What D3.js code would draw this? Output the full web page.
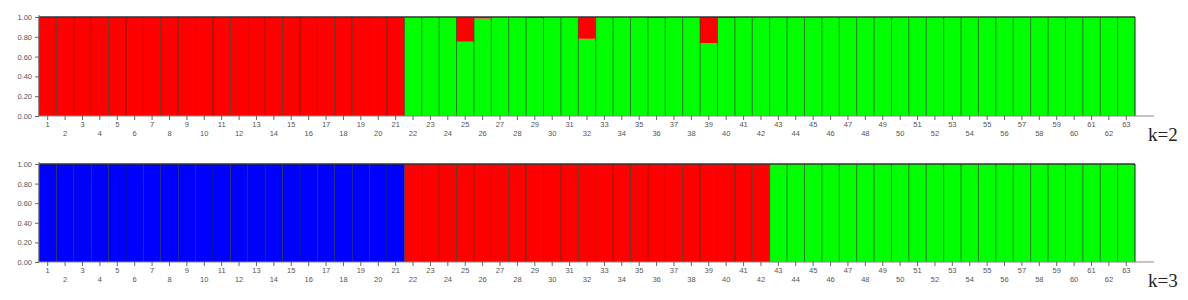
<!DOCTYPE html>
<html><head><meta charset="utf-8">
<script src="https://cdn.jsdelivr.net/npm/d3@7"></script>
<style>body{margin:0;background:#fff;}svg{display:block;}</style>
</head><body>
<svg id="c" width="1188" height="300"></svg>
<script>
const individuals = d3.range(1, 64);
// K=2 membership proportions of the red cluster (green = 1 - red), 21 per row
const k2Red = [
  1,1,1,1,1, 1,1,1,1,1, 1,1,1,1,1, 1,1,1,1,1, 1,
  0,0,0,0.25,0.015, 0,0,0.01,0,0, 0.22,0,0,0,0.01, 0,0,0.265,0.01,0, 0,
  0,0,0,0,0, 0,0,0,0,0, 0,0,0,0,0, 0,0,0,0,0, 0
];
const k2Green = k2Red.map(v => +(1 - v).toFixed(3));
// K=3 membership proportions (blue, red, green)
const k3Blue = individuals.map(i => i <= 21 ? 1 : 0);
const k3Red = individuals.map(i => (i > 21 && i <= 42) ? 1 : 0);
const k3Green = individuals.map(i => i > 42 ? 1 : 0);
const yTicks = [0, 0.2, 0.4, 0.6, 0.8, 1.0];
const panelLabels = ["k=2", "k=3"];

const svg = d3.select("#c");
const x = d3.scaleBand().domain(individuals).range([39, 1135]).padding(0);

function panel(top, bottom, series, colors, label) {
  const y = d3.scaleLinear().domain([0, 1]).range([bottom, top]);
  const g = svg.append("g");
  const rows = individuals.map((id, i) => {
    const r = {id};
    series.forEach((s, j) => r["s" + j] = s[i]);
    return r;
  });
  const keys = series.map((s, j) => "s" + j);
  const stack = d3.stack().keys(keys.slice().reverse())(rows);
  const colorMap = {};
  keys.forEach((k, j) => colorMap[k] = colors[j]);
  stack.forEach(layer => {
    g.selectAll(null).data(layer.filter(d => d[1] - d[0] > 0)).enter().append("rect")
      .attr("x", d => x(d.data.id))
      .attr("width", x.bandwidth())
      .attr("y", d => y(d[1]))
      .attr("height", d => y(d[0]) - y(d[1]))
      .attr("fill", colorMap[layer.key]);
  });
  // bar outlines
  g.selectAll(null).data(individuals).enter().append("line")
    .attr("x1", d => x(d)).attr("x2", d => x(d))
    .attr("y1", y(1)).attr("y2", y(0))
    .attr("stroke", "#1a2a10").attr("stroke-opacity", 0.6).attr("stroke-width", 1);
  g.append("line").attr("x1", x.range()[1]).attr("x2", x.range()[1])
    .attr("y1", y(1)).attr("y2", y(0)).attr("stroke", "#222").attr("stroke-width", 1);
  g.append("line").attr("x1", 39).attr("x2", 1135)
    .attr("y1", y(1)).attr("y2", y(1)).attr("stroke", "#333").attr("stroke-width", 1.5);
  // y axis
  const ya = d3.axisLeft(y).tickValues(yTicks).tickFormat(d3.format(".2f")).tickSize(4).tickPadding(3);
  const yg = svg.append("g").attr("transform", "translate(39,0)").call(ya);
  yg.select(".domain").attr("d", `M0,${y(1) - 2}V${y(0)}`).attr("stroke", "#666");
  yg.selectAll(".tick line").attr("stroke", "#666");
  yg.selectAll("text").attr("font-family", "Arial, Liberation Sans, sans-serif").attr("font-size", 7.5).attr("fill", "#555");
  // x axis
  const xa = d3.axisBottom(x).tickSize(4).tickPadding(2);
  const xg = svg.append("g").attr("transform", `translate(0,${y(0)})`).call(xa);
  xg.select(".domain").attr("d", "M39,0H1154").attr("stroke", "#888");
  xg.selectAll(".tick line").attr("stroke", "#666");
  xg.selectAll("text").attr("font-family", "Arial, Liberation Sans, sans-serif").attr("font-size", 7.5).attr("fill", "#555")
    .attr("dy", (d) => d % 2 === 1 ? "0.71em" : "1.85em");
  svg.append("text").attr("x", 1148).attr("y", bottom + 25).text(label)
    .attr("font-family", "Liberation Serif, Times New Roman, serif").attr("font-size", 19).attr("fill", "#222");
}

panel(17, 116, [k2Red, k2Green], ["#ff0000", "#00ff00"], panelLabels[0]);
panel(164, 262, [k3Blue, k3Red, k3Green], ["#0000ff", "#ff0000", "#00ff00"], panelLabels[1]);
</script>
</body></html>
